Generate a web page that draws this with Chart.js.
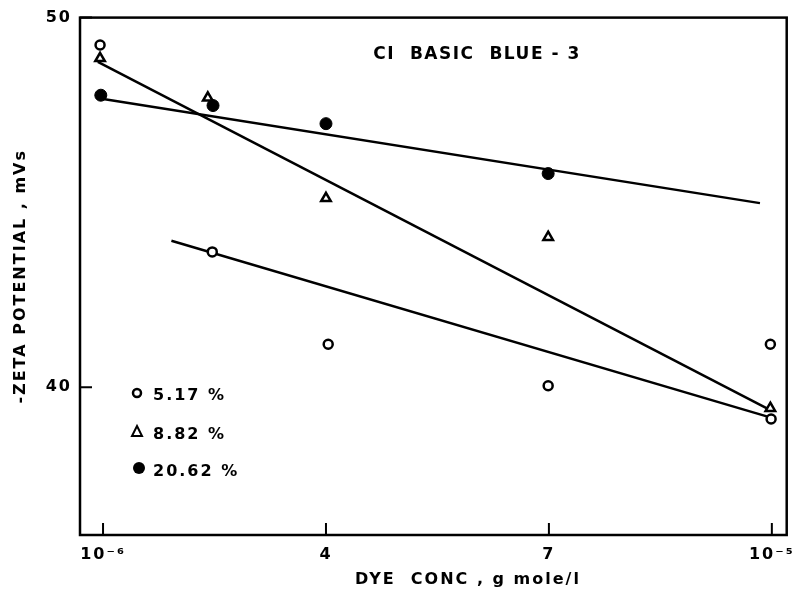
<!DOCTYPE html>
<html>
<head>
<meta charset="utf-8">
<script src="https://cdn.jsdelivr.net/npm/chart.js@4.4.0/dist/chart.umd.min.js"></script>
<style>
  body { margin: 0; background: #fff; }
</style>
</head>
<body>
<canvas id="chart" width="801" height="597"></canvas>
<script>
// dye conc in units of 1e-6 g mole/l
const xTicks = [1, 4, 7, 10]
const xTickLabels = ['10⁻⁶', '4', '7', '10⁻⁵']
const yTicks = [40, 50]

const conc517 = [0.96, 2.47, 4.03, 6.99, 9.98, 9.99]
const zeta517 = [49.26, 43.66, 41.16, 40.04, 41.16, 39.14]
const conc882 = [0.96, 2.41, 4.0, 6.99, 9.98]
const zeta882 = [48.9, 47.83, 45.11, 44.06, 39.43]
const conc2062 = [0.97, 2.48, 4.0, 6.99]
const zeta2062 = [47.9, 47.62, 47.13, 45.78]

// fitted lines, ends as drawn in the figure
const fit517x = [1.92, 10.0]
const fit517y = [43.96, 39.17]
const fit882x = [0.93, 9.98]
const fit882y = [48.8, 39.38]
const fit2062x = [0.96, 9.84]
const fit2062y = [47.81, 44.98]

const legendLabels = ['5.17 %', '8.82 %', '20.62 %']
const chartTitle = 'CI  BASIC  BLUE - 3'
const xTitle = 'DYE  CONC , g mole/l'

const FONT = '"DejaVu Sans", sans-serif'

function pts(xs, ys) {
  return xs.map((x, i) => ({ x: x, y: ys[i] }))
}

function fitLine(xs, ys) {
  return {
    type: 'line',
    data: pts(xs, ys),
    showLine: true,
    borderColor: '#000',
    borderWidth: 2.5,
    pointRadius: 0,
    fill: false
  }
}

// frame, inward ticks, inner title, x title and legend
const decor = {
  id: 'decor',
  beforeDraw(chart) {
    // the original lettering is widely spaced
    chart.ctx.letterSpacing = '2px'
  },
  afterDraw(chart) {
    const ctx = chart.ctx
    const a = chart.chartArea
    const xs = chart.scales.x
    const ys = chart.scales.y
    ctx.save()
    ctx.strokeStyle = '#000'
    ctx.lineWidth = 2.5
    ctx.strokeRect(a.left, a.top, a.right - a.left, a.bottom - a.top)

    ctx.lineWidth = 2
    ctx.beginPath()
    xTicks.forEach(v => {
      const px = xs.getPixelForValue(v)
      ctx.moveTo(px, a.bottom)
      ctx.lineTo(px, a.bottom - 12)
    })
    yTicks.forEach(v => {
      const py = ys.getPixelForValue(v)
      ctx.moveTo(a.left, py)
      ctx.lineTo(a.left + 12, py)
    })
    ctx.stroke()

    ctx.fillStyle = '#000'
    ctx.font = 'bold 17px ' + FONT
    ctx.letterSpacing = '1.5px'
    ctx.textAlign = 'center'
    ctx.textBaseline = 'middle'
    ctx.fillText(chartTitle, 477, 55)

    // x axis title sits right of centre in the original
    ctx.font = 'bold 16px ' + FONT
    ctx.letterSpacing = '2px'
    ctx.fillText(xTitle, 468, 580)

    // legend
    ctx.textAlign = 'left'
    ctx.textBaseline = 'alphabetic'
    ctx.lineWidth = 2.5
    ctx.beginPath()
    ctx.arc(137, 393, 4, 0, Math.PI * 2)
    ctx.stroke()
    ctx.fillText(legendLabels[0], 153, 400)

    ctx.lineWidth = 2
    ctx.beginPath()
    ctx.moveTo(137, 426)
    ctx.lineTo(142, 436)
    ctx.lineTo(132, 436)
    ctx.closePath()
    ctx.stroke()
    ctx.fillText(legendLabels[1], 153, 439)

    ctx.beginPath()
    ctx.arc(139, 468, 6, 0, Math.PI * 2)
    ctx.fill()
    ctx.fillText(legendLabels[2], 153, 476)
    ctx.restore()
  }
}

const tickFont = { family: FONT, size: 16, weight: 'bold' }
const titleFont = { family: FONT, size: 16, weight: 'bold' }

new Chart(document.getElementById('chart'), {
  type: 'scatter',
  data: {
    datasets: [
      {
        data: pts(conc517, zeta517),
        pointStyle: 'circle',
        pointRadius: 4.5,
        pointBorderWidth: 2.5,
        pointBackgroundColor: '#fff',
        pointBorderColor: '#000'
      },
      {
        data: pts(conc882, zeta882),
        pointStyle: 'triangle',
        pointRadius: 5.5,
        pointBorderWidth: 2.5,
        pointBackgroundColor: '#fff',
        pointBorderColor: '#000'
      },
      {
        data: pts(conc2062, zeta2062),
        pointStyle: 'circle',
        pointRadius: 6,
        pointBorderWidth: 1,
        pointBackgroundColor: '#000',
        pointBorderColor: '#000'
      },
      fitLine(fit517x, fit517y),
      fitLine(fit882x, fit882y),
      fitLine(fit2062x, fit2062y)
    ]
  },
  options: {
    responsive: false,
    animation: false,
    layout: { padding: { top: 15, right: 14, left: 0, bottom: 0 } },
    plugins: {
      legend: { display: false },
      tooltip: { enabled: false }
    },
    scales: {
      x: {
        type: 'linear',
        min: 0.69,
        max: 10.2,
        afterBuildTicks: (s) => { s.ticks = xTicks.map(v => ({ value: v })) },
        afterFit: (s) => { s.height = 62 },
        grid: { display: false, drawTicks: false },
        border: { display: false },
        ticks: {
          color: '#000',
          font: tickFont,
          padding: 10,
          maxRotation: 0,
          callback: (v) => xTickLabels[xTicks.indexOf(v)]
        },
        title: { display: false }
      },
      y: {
        min: 36,
        max: 50,
        afterBuildTicks: (s) => { s.ticks = yTicks.map(v => ({ value: v })) },
        afterFit: (s) => { s.width = 80 },
        grid: { display: false, drawTicks: false },
        border: { display: false },
        ticks: {
          color: '#000',
          font: tickFont,
          padding: 8
        },
        title: {
          display: true,
          text: '-ZETA POTENTIAL , mVs',
          color: '#000',
          font: titleFont,
          padding: { top: 11, bottom: 0 }
        }
      }
    }
  },
  plugins: [decor]
})
</script>
</body>
</html>
